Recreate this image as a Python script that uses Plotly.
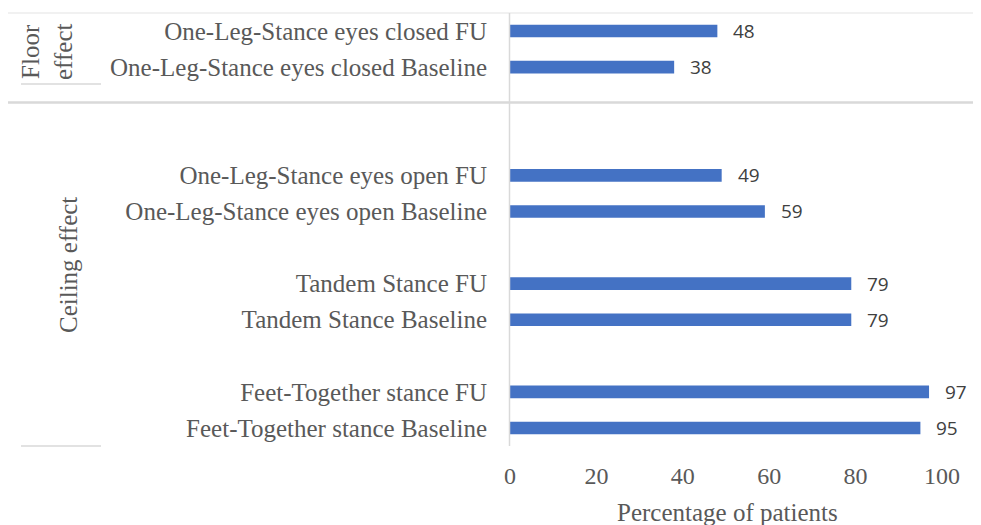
import plotly.graph_objects as go

categories = [
    "Feet-Together stance Baseline",
    "Feet-Together stance FU",
    "Tandem Stance Baseline",
    "Tandem Stance FU",
    "One-Leg-Stance eyes open Baseline",
    "One-Leg-Stance eyes open FU",
    "One-Leg-Stance eyes closed Baseline",
    "One-Leg-Stance eyes closed FU",
]
values = [95, 97, 79, 79, 59, 49, 38, 48]
# slot positions on the category axis (gaps between pairs/groups)
slots = [0, 1, 3, 4, 6, 7, 10, 11]
x_ticks = [0, 20, 40, 60, 80, 100]

OFF = 8  # page body margin
W, H = 981 - OFF, 525 - OFF
L, T = 510 - OFF, 13 - OFF
pw = 942 - 510
ph = 446 - 13
R = W - L - pw
B = H - T - ph

def px(x):
    return (x - OFF - L) / pw

def py(y):
    return (H - B - (y - OFF)) / ph

fig = go.Figure()
fig.add_trace(go.Bar(
    x=values, y=slots, orientation="h", width=0.35,
    marker=dict(color="#4472C4", line=dict(width=0)),
    hoverinfo="skip",
))

for v, s in zip(values, slots):
    fig.add_annotation(x=v, y=s, text=str(v), showarrow=False,
                       xanchor="left", yanchor="middle", xshift=14,
                       font=dict(family="Open Sans, Liberation Sans", size=19, color="#404040"))

serif = "Liberation Serif, Times New Roman, serif"
grey = "#595959"

fig.update_layout(
    width=W, height=H,
    margin=dict(l=L, r=R, t=T, b=B),
    plot_bgcolor="white", paper_bgcolor="white",
    showlegend=False,
    xaxis=dict(range=[0, 100], tickvals=x_ticks, ticktext=[str(t) for t in x_ticks],
               showgrid=False, zeroline=False, showline=False,
               tickfont=dict(family=serif, size=24, color=grey),
               ticks="", ticklabelstandoff=13),
    yaxis=dict(range=[-0.5, 11.5], tickvals=slots, ticktext=categories,
               showgrid=False, zeroline=False, showline=False,
               tickfont=dict(family=serif, size=25, color=grey),
               ticks="", ticklabelstandoff=22),
)

line_c = "#d9d9d9"
shapes = [
    dict(type="line", xref="paper", yref="paper", x0=px(8), x1=px(981), y0=py(13), y1=py(13),
         line=dict(color="#e3e3e3", width=1)),
    dict(type="line", xref="paper", yref="paper", x0=px(509.5), x1=px(509.5), y0=py(13), y1=py(446),
         line=dict(color=line_c, width=1.5)),
    dict(type="line", xref="paper", yref="paper", x0=px(8), x1=px(981), y0=py(102.5), y1=py(102.5),
         line=dict(color=line_c, width=2.5)),
    dict(type="line", xref="paper", yref="paper", x0=px(21), x1=px(101), y0=py(84), y1=py(84),
         line=dict(color=line_c, width=1.5)),
    dict(type="line", xref="paper", yref="paper", x0=px(21), x1=px(101), y0=py(446), y1=py(446),
         line=dict(color=line_c, width=1.5)),
]
fig.update_layout(shapes=shapes)

fig.add_annotation(xref="paper", yref="paper", x=px(47), y=py(52), text="Floor<br>effect",
                   showarrow=False, textangle=-90, xanchor="center", yanchor="middle",
                   font=dict(family=serif, size=25, color=grey), height=64)
fig.add_annotation(xref="paper", yref="paper", x=px(68), y=py(265), text="Ceiling effect",
                   showarrow=False, textangle=-90, xanchor="center", yanchor="middle",
                   font=dict(family=serif, size=25, color=grey))
fig.add_annotation(xref="paper", yref="paper", x=px(727), y=py(512), text="Percentage of patients",
                   showarrow=False, xanchor="center", yanchor="middle",
                   font=dict(family=serif, size=25, color=grey))

fig.write_html("out.html")
